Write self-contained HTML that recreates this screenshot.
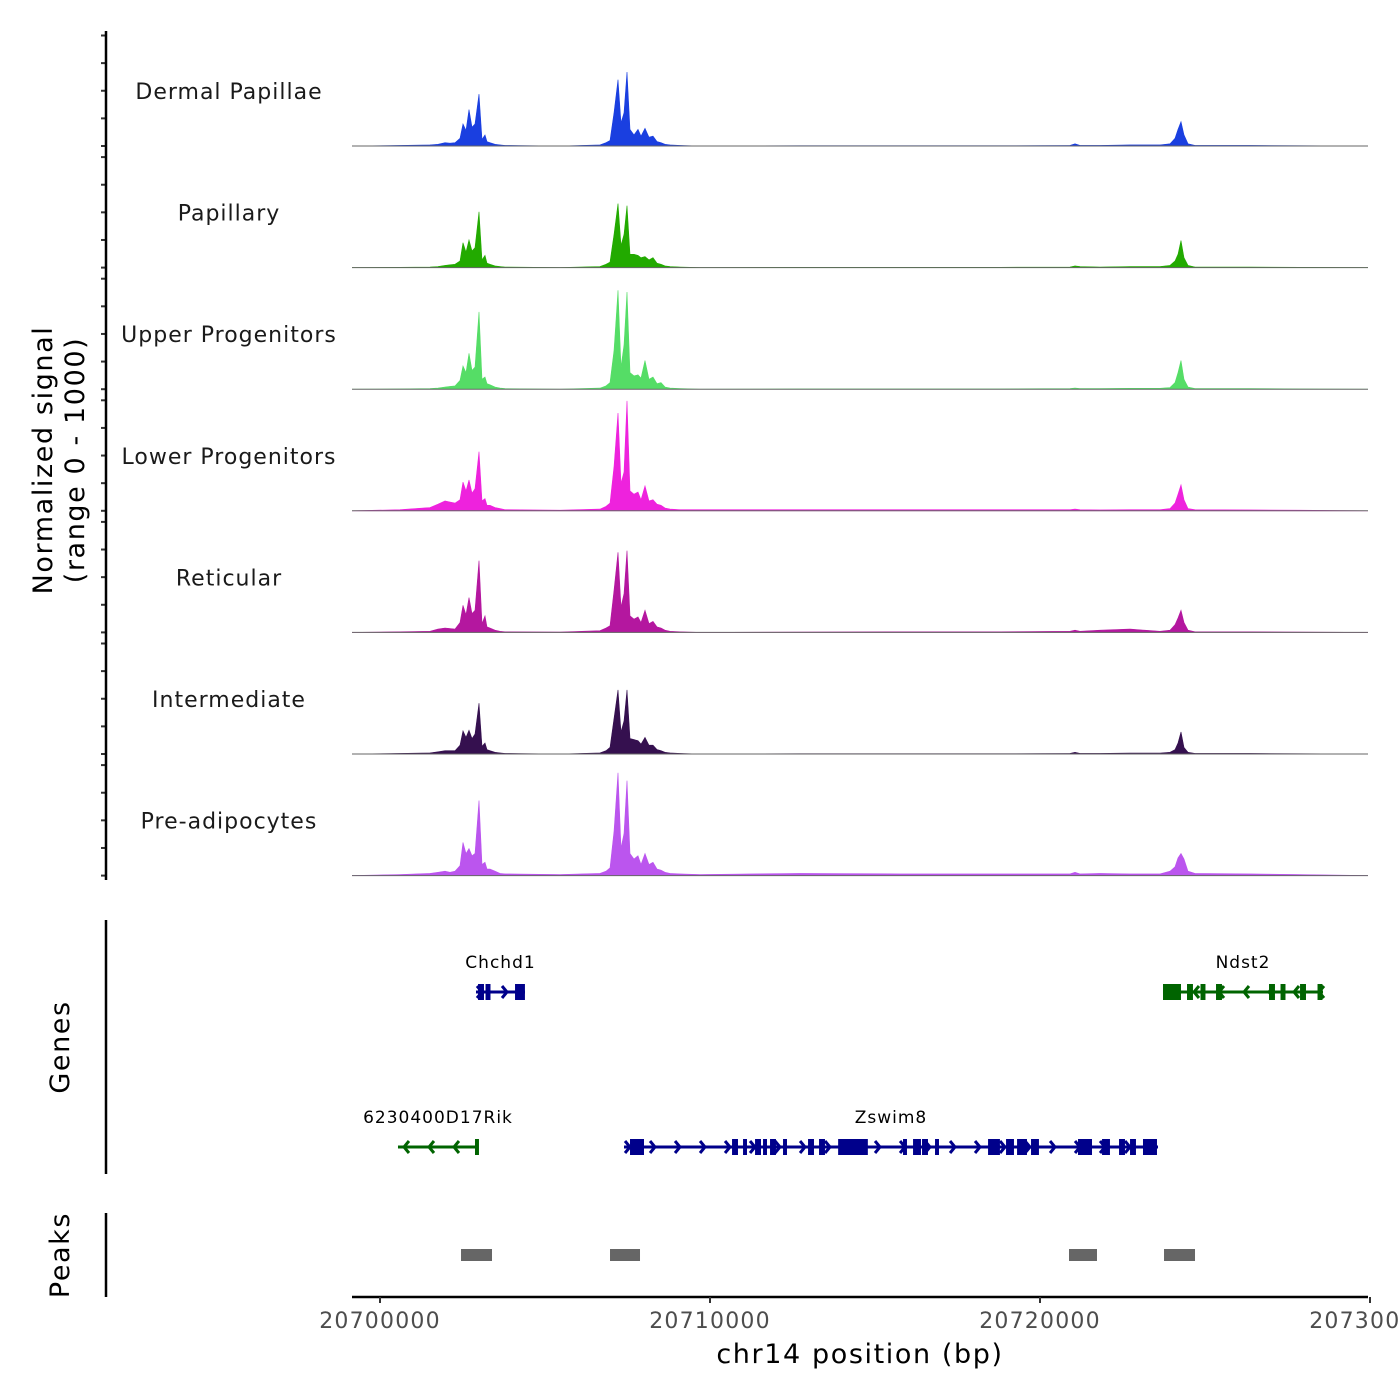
<!DOCTYPE html>
<html><head><meta charset="utf-8"><style>
html,body{margin:0;padding:0;background:#fff;}
svg{display:block;font-family:"DejaVu Sans","Liberation Sans",sans-serif;}
</style></head><body>
<svg id="chart" width="1400" height="1400" viewBox="0 0 1400 1400" xmlns="http://www.w3.org/2000/svg">
<g id="tracks"></g>
<g id="genes"></g>
<g id="peaks"></g>
<g id="axes"></g>
</svg>
<script>
const trackNames = ["Dermal Papillae","Papillary","Upper Progenitors","Lower Progenitors","Reticular","Intermediate","Pre-adipocytes"];
const trackColors = ["#1a3fe0","#22aa00","#55dd66","#ee22dd","#b4179f","#35104f","#bb55ee"];
const positions = [20699152,20700606,20701515,20701758,20701970,20702121,20702273,20702424,20702515,20702606,
20702697,20702788,20702879,20703000,20703091,20703182,20703242,20703333,20703485,20703636,
20703788,20705455,20706667,20706848,20706970,20707091,20707212,20707303,20707394,20707485,
20707576,20707697,20707818,20707909,20708030,20708152,20708273,20708394,20708515,20708636,
20708788,20709091,20709697,20712727,20715758,20718788,20720909,20721061,20721212,20721818,
20722727,20723636,20723939,20724091,20724182,20724273,20724364,20724485,20724697,20726364,
20727879,20729939];
const dpValues = [0,5,10,15,30,25,30,70,200,140,330,170,200,470,60,100,40,30,15,10,5,0,10,30,50,300,600,210,300,670,150,100,150,90,160,80,90,40,30,15,10,5,0,3,3,3,5,20,5,5,10,10,20,70,150,220,100,20,5,5,3,0];
const papValues = [0,3,5,10,20,25,30,60,225,140,250,150,180,505,70,110,40,30,15,10,5,0,10,30,50,300,580,200,300,560,120,120,110,90,100,70,90,40,30,15,10,5,0,3,3,3,5,15,10,5,10,10,20,60,120,245,90,20,5,5,3,0];
const upperValues = [0,3,5,10,20,25,30,80,210,150,325,170,200,700,90,110,50,40,20,10,5,0,10,30,60,350,895,200,400,880,150,120,130,100,260,90,110,50,60,20,10,5,0,3,3,3,5,10,5,5,8,8,15,60,150,260,90,20,5,5,3,0];
const lowerValues = [0,10,30,60,90,80,70,100,260,180,280,160,200,535,90,110,50,50,30,20,10,5,15,40,70,400,885,250,350,995,180,150,170,100,225,90,100,60,50,25,15,10,10,10,10,10,10,15,10,8,10,10,20,70,150,235,100,20,10,8,5,0];
const retValues = [0,5,10,30,40,35,30,90,245,160,315,170,200,650,80,150,50,40,20,10,5,3,15,40,60,380,725,230,350,740,150,120,140,90,200,80,100,50,40,20,10,5,0,3,5,5,10,20,10,20,30,10,20,70,130,200,90,20,5,5,3,0];
const intValues = [0,5,10,20,30,30,30,80,210,150,215,140,180,460,70,100,40,30,15,10,5,0,10,30,60,320,580,200,300,580,140,130,120,90,150,80,80,40,30,15,10,5,0,3,3,3,5,15,5,5,8,8,15,40,100,200,60,15,5,5,3,0];
const preValues = [0,10,20,30,40,30,40,90,300,200,245,180,200,680,100,120,60,60,40,20,15,10,20,40,70,400,930,250,380,860,200,150,180,100,200,100,120,60,50,30,20,15,10,20,15,15,15,30,15,20,15,15,40,80,160,200,150,40,20,15,10,0];
const xTicks = [20700000,20710000,20720000,20730000];
const xTickLabels = ["20700000","20710000","20720000","20730000"];
const yTicks = [0,250,500,750,1000];
const geneNames = ["Chchd1","Ndst2","6230400D17Rik","Zswim8"];
const geneStarts = [20702909,20723727,20700545,20707394];
const geneEnds = [20704394,20728576,20702970,20723576];
const geneStrands = [1,-1,-1,1];
const geneRows = [0,0,1,1];
const geneExonCenters = [
 [20703061,20703273,20704242],
 [20724000,20724545,20724939,20725424,20727030,20727364,20727970,20728485],
 [20702939],
 [20707788,20710758,20711061,20711455,20711667,20711909,20712273,20713061,20713394,20714333,20715909,20716273,20716515,20716879,20718606,20719091,20719455,20719848,20721364,20722000,20722485,20722818,20723333]];
const geneExonWidths = [
 [180,150,300],
 [545,180,150,180,180,150,180,150],
 [120],
 [424,180,120,180,120,180,120,180,180,900,120,240,180,120,360,240,300,240,424,240,180,180,424]];
const peakStarts = [20702455,20706970,20720879,20723758];
const peakEnds = [20703394,20707879,20721727,20724697];

const NS="http://www.w3.org/2000/svg";
function mk(tag, attrs, parent){const e=document.createElementNS(NS,tag);for(const k in attrs)e.setAttribute(k,attrs[k]);parent.appendChild(e);return e;}
const xs = bp => 380 + (bp-20700000)/10000*330;
const X0=352, X1=1368;
const trackTop0=146, trackStep=121.6, yScale=0.1105;
const ys = (i,v) => trackTop0 + i*trackStep - v*yScale;
const allValues=[dpValues,papValues,upperValues,lowerValues,retValues,intValues,preValues];
const gT=document.getElementById('tracks');
const gA=document.getElementById('axes');
for(let i=0;i<7;i++){
  const base=ys(i,0);
  let d=`M${xs(positions[0])},${base}`;
  positions.forEach((p,j)=>{d+=` L${xs(p).toFixed(1)},${ys(i,allValues[i][j]).toFixed(1)}`;});
  d+=` L${xs(positions[positions.length-1])},${base} Z`;
  const a=mk('path',{d:d,fill:trackColors[i],stroke:trackColors[i],'stroke-width':0.6},gT);
  
  
  const bl=mk('line',{x1:X0,x2:X1,y1:base,y2:base,stroke:'#666','stroke-width':1},gT);
  
  
  const t=mk('text',{x:229,y:base-47,'text-anchor':'middle','font-size':22,'letter-spacing':1,fill:'#1a1a1a'},gT);
  t.textContent=trackNames[i];
  
  
  yTicks.forEach(v=>{
    const tk=mk('line',{x1:101,x2:106,y1:ys(i,v),y2:ys(i,v),stroke:'#333','stroke-width':2},gA);
    
    
  });
}
let yl=mk('line',{x1:106,x2:106,y1:31,y2:880,stroke:'#000','stroke-width':2.5},gA);


let yt=mk('text',{transform:'translate(52,460) rotate(-90)','text-anchor':'middle','font-size':27,'letter-spacing':1.6,fill:'#000'},gA);
yt.textContent='Normalized signal';


let yt2=mk('text',{transform:'translate(84,460) rotate(-90)','text-anchor':'middle','font-size':27,'letter-spacing':1.6,fill:'#000'},gA);
yt2.textContent='(range 0 - 1000)';



const gG=document.getElementById('genes');
const rowY=[992,1147];
geneNames.forEach((n,i)=>{
  const col = geneStrands[i]>0 ? '#00008b' : '#006400';
  const y=rowY[geneRows[i]];
  const x1=xs(geneStarts[i]), x2=xs(geneEnds[i]);
  const g=mk('g',{},gG);
  
  
  mk('line',{x1:x1,x2:x2,y1:y,y2:y,stroke:col,'stroke-width':3},g);
  for(let x=x1+6;x<x2-4;x+=25){
    const s=geneStrands[i]*5;
    mk('polyline',{points:`${x-s},${y-6} ${x},${y} ${x-s},${y+6}`,fill:'none',stroke:col,'stroke-width':3},g);
  }
  geneExonCenters[i].forEach((c,j)=>{
    const w=Math.max(3,geneExonWidths[i][j]/10000*330);
    mk('rect',{x:xs(c)-w/2,y:y-8,width:w,height:16,fill:col},g);
  });
  const t=mk('text',{x:(x1+x2)/2,y:y-24,'text-anchor':'middle','font-size':17,'letter-spacing':1,fill:'#000'},g);
  t.textContent=n;
});
let gl=mk('line',{x1:106,x2:106,y1:920,y2:1174,stroke:'#000','stroke-width':2.5},gA);


let gt=mk('text',{transform:'translate(69,1047) rotate(-90)','text-anchor':'middle','font-size':27,'letter-spacing':1.6,fill:'#000'},gA);
gt.textContent='Genes';



const gP=document.getElementById('peaks');
peakStarts.forEach((s,i)=>{
  const r=mk('rect',{x:xs(s),y:1249,width:xs(peakEnds[i])-xs(s),height:12,fill:'#666'},gP);
  
  
});
let pl=mk('line',{x1:106,x2:106,y1:1213,y2:1297,stroke:'#000','stroke-width':2.5},gA);


let pt=mk('text',{transform:'translate(69,1255) rotate(-90)','text-anchor':'middle','font-size':27,'letter-spacing':1.6,fill:'#000'},gA);
pt.textContent='Peaks';



let xl=mk('line',{x1:X0,x2:X1,y1:1297,y2:1297,stroke:'#000','stroke-width':2.5},gA);


xTicks.forEach((v,i)=>{
  const x=xs(v);
  const tk=mk('line',{x1:x,x2:x,y1:1297,y2:1303,stroke:'#333','stroke-width':2},gA);
  
  
  const t=mk('text',{x:x,y:1328,'text-anchor':'middle','font-size':22,'letter-spacing':1.2,fill:'#4d4d4d'},gA);
  t.textContent=xTickLabels[i];
  
  
});
let xt=mk('text',{x:860,y:1363,'text-anchor':'middle','font-size':27,'letter-spacing':1.6,fill:'#000'},gA);
xt.textContent='chr14 position (bp)';


</script>
</body></html>
